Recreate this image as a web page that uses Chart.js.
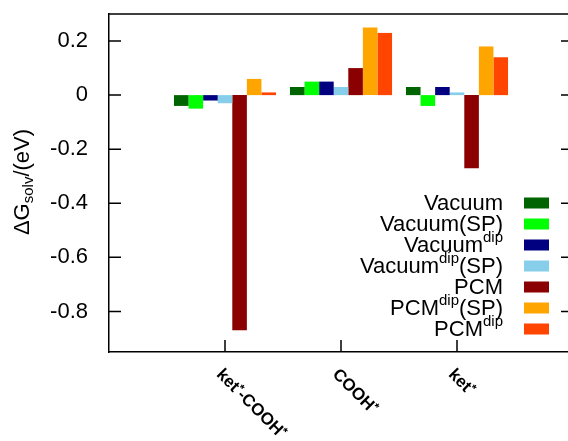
<!DOCTYPE html>
<html lang="en">
<head>
  <meta charset="UTF-8" />
  <title>Solvation free energies</title>
  <script src="https://cdn.jsdelivr.net/npm/chart.js"></script>
  <style>
    html, body {
      margin: 0;
      padding: 0;
      background: #fff;
      overflow: hidden;
    }
    #chart {
      display: block;
    }
  </style>
</head>
<body>
  <canvas id="chart" width="580" height="441"></canvas>

  <script>
    const categories = ['ket*-COOH*', 'COOH*', 'ket*'];
    const seriesNames = ['Vacuum', 'Vacuum(SP)', 'Vacuum^{dip}', 'Vacuum^{dip}(SP)', 'PCM', 'PCM^{dip}(SP)', 'PCM^{dip}'];
    const seriesColors = ['#006400', '#00ff00', '#000080', '#87ceeb', '#8b0000', '#ffa500', '#ff4500'];

    const vacuum     = [-0.04, 0.03,  0.03];
    const vacuumSP   = [-0.05, 0.05, -0.04];
    const vacDip     = [-0.02, 0.05,  0.03];
    const vacDipSP   = [-0.03, 0.03,  0.01];
    const pcm        = [-0.87, 0.10, -0.27];
    const pcmDipSP   = [ 0.06, 0.25,  0.18];
    const pcmDip     = [ 0.01, 0.23,  0.14];
    const seriesValues = [vacuum, vacuumSP, vacDip, vacDipSP, pcm, pcmDipSP, pcmDip];

    const yTicks = [-0.8, -0.6, -0.4, -0.2, 0, 0.2];

    const FONT = "'Liberation Sans', Arial, Helvetica, sans-serif";

    // empty slots either side so the plot runs one category past the labels
    const labels = [''].concat(categories, ['']);

    // draws text with ^{..} superscripts, or returns its width
    function richText(ctx, str, x, y, size, supSize, draw) {
      const parts = str.split(/\^\{([^}]*)\}/);
      let w = 0;
      parts.forEach((p, i) => {
        const sup = i % 2 === 1;
        ctx.font = (sup ? supSize : size) + 'px ' + FONT;
        if (draw) ctx.fillText(p, x + w, sup ? y - size * 0.38 : y);
        w += ctx.measureText(p).width;
      });
      return w;
    }

    const framePlugin = {
      id: 'frame',
      afterDraw(chart) {
        const ctx = chart.ctx;
        const a = chart.chartArea;
        const xs = chart.scales.x;
        const ys = chart.scales.y;
        ctx.save();
        ctx.strokeStyle = '#000';
        ctx.lineWidth = 1.5;
        ctx.beginPath();
        ctx.moveTo(a.left, a.top);
        ctx.lineTo(a.right, a.top);
        ctx.lineTo(a.right, a.bottom);
        // inward ticks
        yTicks.forEach(v => {
          const y = ys.getPixelForValue(v);
          ctx.moveTo(a.left, y); ctx.lineTo(a.left + 12, y);
          ctx.moveTo(a.right, y); ctx.lineTo(a.right - 12, y);
        });
        categories.forEach((c, i) => {
          const x = xs.getPixelForValue(i + 1);
          ctx.moveTo(x, a.bottom); ctx.lineTo(x, a.bottom - 12);
        });
        ctx.stroke();

        // rotated category labels with raised asterisks
        ctx.fillStyle = '#000';
        ctx.textBaseline = 'top';
        categories.forEach((c, i) => {
          const x = xs.getPixelForValue(i + 1);
          ctx.save();
          ctx.translate(x, a.bottom + 14);
          ctx.rotate(Math.PI / 4);
          let w = 0;
          c.split(/(\*)/).forEach(p => {
            if (!p) return;
            const star = p === '*';
            ctx.font = 'bold ' + (star ? 12 : 17) + 'px ' + FONT;
            ctx.fillText(p, w, star ? -1 : 0);
            w += ctx.measureText(p).width;
          });
          ctx.restore();
        });

        // y axis title
        ctx.save();
        ctx.translate(29, 182);
        ctx.rotate(-Math.PI / 2);
        ctx.textBaseline = 'alphabetic';
        ctx.font = '22px ' + FONT;
        const w1 = ctx.measureText('\u0394G').width;
        ctx.font = '15px ' + FONT;
        const w2 = ctx.measureText('solv').width;
        ctx.font = '22px ' + FONT;
        const w3 = ctx.measureText('/(eV)').width;
        let tx = -(w1 + w2 + w3) / 2;
        ctx.fillText('\u0394G', tx, 0); tx += w1;
        ctx.font = '15px ' + FONT;
        ctx.fillText('solv', tx, 4); tx += w2;
        ctx.font = '22px ' + FONT;
        ctx.fillText('/(eV)', tx, 0);
        ctx.restore();

        // legend
        ctx.textBaseline = 'middle';
        seriesNames.forEach((name, i) => {
          const cy = 203 + i * 21;
          const w = richText(ctx, name, 0, 0, 22, 15, false);
          richText(ctx, name, 503 - w, cy + 1, 22, 15, true);
          ctx.fillStyle = seriesColors[i];
          ctx.fillRect(524, cy - 5.5, 25, 11);
          ctx.fillStyle = '#000';
        });
        ctx.restore();
      }
    };

    new Chart(document.getElementById('chart'), {
      type: 'bar',
      data: {
        labels: labels,
        datasets: seriesNames.map((name, i) => ({
          label: name,
          data: [null].concat(seriesValues[i], [null]),
          backgroundColor: seriesColors[i],
          borderWidth: 0,
          categoryPercentage: 0.88,
          barPercentage: 1
        }))
      },
      options: {
        responsive: false,
        animation: false,
        devicePixelRatio: 1,
        layout: { autoPadding: false, padding: { left: 0, top: 14, right: 7, bottom: 0 } },
        plugins: {
          legend: { display: false },
          tooltip: { enabled: false }
        },
        scales: {
          x: {
            offset: false,
            grid: { display: false, drawTicks: false },
            ticks: { display: false },
            border: { color: '#000', width: 1.5 },
            afterFit: s => { s.height = 89; s.paddingLeft = s.paddingRight = 0; }
          },
          y: {
            min: -0.95,
            max: 0.3,
            afterBuildTicks: s => { s.ticks = yTicks.map(v => ({ value: v })); },
            grid: { display: false, drawTicks: false },
            border: { color: '#000', width: 1.5 },
            ticks: {
              color: '#000',
              padding: 21,
              font: { size: 22, family: FONT },
              callback: v => v === 0 ? '0' : v.toFixed(1)
            },
            afterFit: s => { s.width = 109; s.paddingTop = s.paddingBottom = 0; }
          }
        }
      },
      plugins: [framePlugin]
    });
  </script>
</body>
</html>
